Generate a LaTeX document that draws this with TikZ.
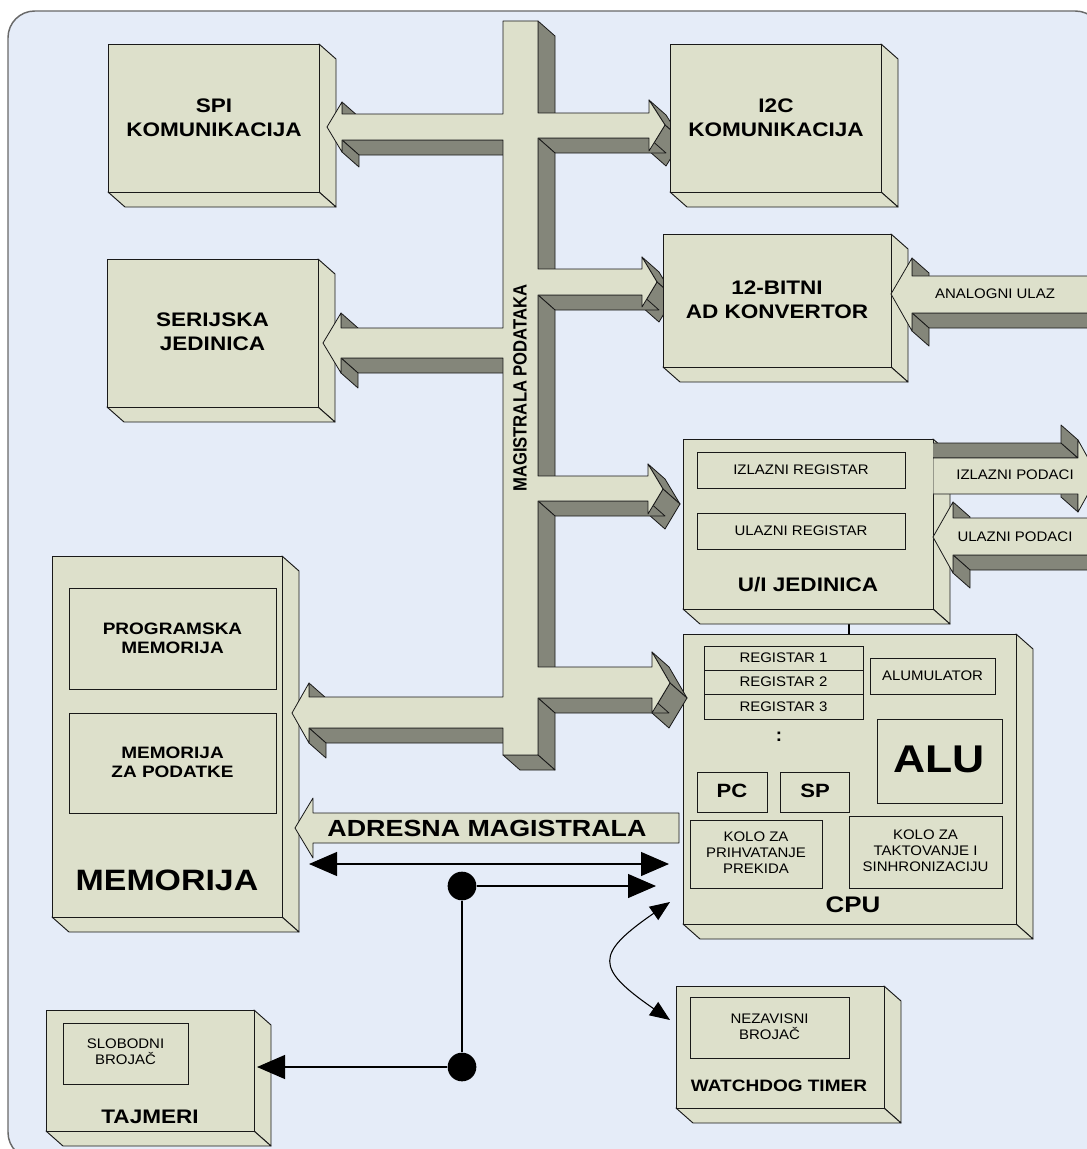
\documentclass[tikz,border=0pt]{standalone}
\usepackage{fontspec}
\setmainfont{Liberation Sans}
\usetikzlibrary{arrows.meta,calc}
\definecolor{bgblue}{RGB}{229,236,248}
\definecolor{boxfill}{RGB}{221,224,203}
\definecolor{shade}{RGB}{132,134,122}
\definecolor{framec}{RGB}{105,105,105}
\definecolor{edge}{RGB}{25,25,25}

\tikzset{
  boxst/.style={fill=boxfill, draw=edge, line width=0.7pt, line join=round},
  inbox/.style={draw=edge, line width=0.7pt},
  sidef/.style={fill=shade, draw=edge, line width=0.6pt, line join=round},
  frontf/.style={fill=boxfill, draw=edge, line width=0.6pt, line join=round},
  lblbig/.style={font=\bfseries\fontsize{14.7}{18}\selectfont, align=center, xscale=1.15, inner sep=0pt},
  lblmid/.style={font=\bfseries\fontsize{12.4}{14.5}\selectfont, align=center, xscale=1.15, inner sep=0pt},
  lblsm/.style={font=\fontsize{10.4}{12}\selectfont, align=center, xscale=1.08, inner sep=0pt},
  conn/.style={draw=black, line width=0.8pt},
  bigtip/.style={-{Triangle[length=21pt,width=18pt]}},
  bothtip/.style={{Triangle[length=21pt,width=18pt]}-{Triangle[length=21pt,width=18pt]}},
  curvetip/.style={{Triangle[length=15pt,width=12pt]}-{Triangle[length=15pt,width=12pt]}},
  blackdot/.style={circle, fill=black, minimum size=21.5pt, inner sep=0pt},
}

% 3D box: x1 y1 x2 y2 (front face), depth (17,15)
\newcommand\tdbox[4]{%
  \filldraw[boxst] (#3,#2) -- ({#3+17},{#2+15}) -- ({#3+17},{#4+15}) -- (#3,#4) -- cycle;
  \filldraw[boxst] (#1,#4) -- (#3,#4) -- ({#3+17},{#4+15}) -- ({#1+17},{#4+15}) -- cycle;
  \filldraw[boxst] (#1,#2) rectangle (#3,#4);
}

% extruded polygon: ex ey x0 y0 {rest x/y list}, clockwise on screen
\newcommand\solidshape[5]{%
  \foreach \x/\y [remember=\x as \px (initially #3), remember=\y as \py (initially #4)] in {#5,#3/#4} {%
    \pgfmathsetmacro\vis{(\y-\py)*(#1)-(\x-\px)*(#2)}%
    \ifdim\vis pt>0pt
      \filldraw[sidef] (\px,\py) -- (\x,\y) -- ({\x+(#1)},{\y+(#2)}) -- ({\px+(#1)},{\py+(#2)}) -- cycle;
    \fi
  }%
  \filldraw[frontf] (#3,#4) \foreach \x/\y in {#5} { -- (\x,\y) } -- cycle;
}

\begin{document}
\begin{tikzpicture}[x=0.75pt,y=-0.75pt]
\useasboundingbox (0,0) rectangle (1087,1149);
\clip (0,0) rectangle (1087,1149);
\fill[white] (0,0) rectangle (1087,1149);
\filldraw[fill=bgblue, draw=framec, line width=1.1pt, rounded corners=20pt] (8,11) rectangle (1102,1159);

% link U/I -> CPU
\coordinate (uiB) at (849,609);
\coordinate (cpuT) at (849,634);
\draw[conn] (uiB) -- (cpuT);

% boxes
\tdbox{108}{44}{319}{192}
\tdbox{107}{259}{318}{407}
\tdbox{52}{556}{282}{917}
\tdbox{683}{439}{933}{609}
\tdbox{683}{634}{1016}{924}
\tdbox{46}{1010}{254}{1131}
\tdbox{676}{986}{884}{1108}

% data bus
\solidshape{17}{15}{503}{21}{538/21, 538/113, 649/113, 649/100, 665/125, 649/151, 649/138, 538/138, 538/269, 642/269, 642/257, 657/282, 642/307, 642/295, 538/295, 538/476, 648/476, 648/464, 663/489, 648/514, 648/501, 538/501, 538/667, 652/667, 652/652, 670/683, 652/713, 652/698, 538/698, 538/755, 503/755, 503/728, 309/728, 309/743, 292/713, 309/683, 309/697, 503/697, 503/358, 341/358, 341/373, 323/343, 341/313, 341/328, 503/328, 503/140, 342/140, 342/152, 327/127, 342/102, 342/114, 503/114}

\tdbox{670}{44}{881}{192}
\tdbox{663}{234}{891}{367}

% analog input, ulazni podaci
\solidshape{17}{15}{891}{294}{912/258, 912/276, 1110/276, 1110/313, 912/313, 912/331}
\solidshape{17}{15}{933}{537}{953/502, 953/518, 1110/518, 1110/555, 953/555, 953/573}
% izlazni podaci
\begin{scope}
\clip (933,0) rectangle (1087,1149);
\solidshape{-17}{-15}{933}{458}{1078/458, 1078/440, 1098/476, 1078/512, 1078/494, 933/494}
\end{scope}

% inner boxes
\draw[inbox] (69,588) rectangle (276,689);
\draw[inbox] (69,713) rectangle (276,813);
\draw[inbox] (697,452) rectangle (905,488);
\draw[inbox] (697,513) rectangle (905,549);
\draw[inbox] (704,646) rectangle (863,670);
\draw[inbox] (704,670) rectangle (863,694);
\draw[inbox] (704,694) rectangle (863,719);
\draw[inbox] (870,658) rectangle (995,694);
\draw[inbox] (877,719) rectangle (1002,803);
\draw[inbox] (697,772) rectangle (767,812);
\draw[inbox] (780,772) rectangle (849,812);
\draw[inbox] (690,820) rectangle (822,888);
\draw[inbox] (849,816) rectangle (1002,888);
\draw[inbox] (63,1023) rectangle (188,1084);
\draw[inbox] (690,997) rectangle (849,1058);

% address bus arrow
\filldraw[frontf] (295,828) -- (313,798) -- (313,813) -- (679,813) -- (679,843) -- (313,843) -- (313,858) -- cycle;

% thin connectors
\coordinate (memA) at (309,864);
\coordinate (cpuA) at (669,864);
\draw[conn, bothtip] (memA) -- (cpuA);
\node[blackdot] (d1) at (462,886) {};
\node[blackdot] (d2) at (462,1067) {};
\coordinate (cpuB) at (656,886);
\coordinate (tajA) at (257,1067);
\draw[conn, bigtip] (d1) -- (cpuB);
\draw[conn] (d1) -- (d2);
\draw[conn, bigtip] (d2) -- (tajA);
\coordinate (cpuC) at (670,902);
\coordinate (wdA) at (670,1020);
\draw[conn, curvetip] (cpuC) .. controls (595,954) and (595,968) .. (wdA);

% labels
\node[lblbig] (tspi) at (214,118) {SPI\\KOMUNIKACIJA};
\node[lblbig] (ti2c) at (776,118) {I2C\\KOMUNIKACIJA};
\node[lblbig] (tad) at (777,300) {12-BITNI\\AD KONVERTOR};
\node[lblbig] (tser) at (212.5,332) {SERIJSKA\\JEDINICA};
\node[lblbig] (tui) at (808,585) {U/I JEDINICA};
\node[lblbig] (ttaj) at (150,1117) {TAJMERI};
\node[lblmid] (twd) at (779,1086) {WATCHDOG TIMER};
\node[lblmid] (tprog) at (172.5,638) {PROGRAMSKA\\MEMORIJA};
\node[lblmid] (tdata) at (172.5,762) {MEMORIJA\\ZA PODATKE};
\node[font=\bfseries\fontsize{22.1}{26}\selectfont, xscale=1.15, inner sep=0pt] (tmem) at (167,880) {MEMORIJA};
\node[font=\bfseries\fontsize{16.9}{20}\selectfont, xscale=1.15, inner sep=0pt] (tcpu) at (853,905) {CPU};
\node[font=\bfseries\fontsize{29}{34}\selectfont, xscale=1.15, inner sep=0pt] (talu) at (939,759) {ALU};
\node[font=\bfseries\fontsize{14.4}{17}\selectfont, xscale=1.15, inner sep=0pt] (tpc) at (732,791) {PC};
\node[font=\bfseries\fontsize{14.4}{17}\selectfont, xscale=1.15, inner sep=0pt] (tsp) at (815,791) {SP};
\node[font=\bfseries\fontsize{14}{17}\selectfont, inner sep=0pt] (tcolon) at (779,737) {:};
\node[font=\bfseries\fontsize{17.5}{21}\selectfont, xscale=1.15, inner sep=0pt] (tadr) at (487,828) {ADRESNA MAGISTRALA};
\node[font=\bfseries\fontsize{12.5}{15}\selectfont, rotate=90, yscale=1.15, inner sep=0pt] (tbus) at (520,388) {MAGISTRALA PODATAKA};
\node[lblsm] (tizr) at (801,470) {IZLAZNI REGISTAR};
\node[lblsm] (tulr) at (801,531) {ULAZNI REGISTAR};
\node[lblsm] (tizp) at (1015,475) {IZLAZNI PODACI};
\node[lblsm] (tulp) at (1015,537) {ULAZNI PODACI};
\node[lblsm] (tana) at (995,294) {ANALOGNI ULAZ};
\node[lblsm] (tr1) at (783.5,658) {REGISTAR 1};
\node[lblsm] (tr2) at (783.5,682) {REGISTAR 2};
\node[lblsm] (tr3) at (783.5,706.5) {REGISTAR 3};
\node[lblsm] (tacc) at (932.5,676) {ALUMULATOR};
\node[lblsm] (tkp) at (756,853) {KOLO ZA\\PRIHVATANJE\\PREKIDA};
\node[lblsm] (tkt) at (925.5,851) {KOLO ZA\\TAKTOVANJE I\\SINHRONIZACIJU};
\node[lblsm] (tslb) at (125.5,1052) {SLOBODNI\\BROJAČ};
\node[lblsm] (tnez) at (769.5,1027) {NEZAVISNI\\BROJAČ};
\end{tikzpicture}
\end{document}
